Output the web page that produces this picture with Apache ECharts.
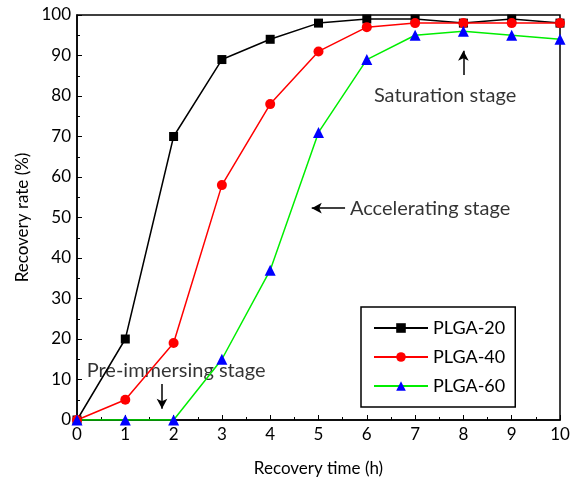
<!DOCTYPE html>
<html><head><meta charset="utf-8">
<script src="https://cdn.jsdelivr.net/npm/echarts@6/dist/echarts.min.js"></script>
<style>html,body{margin:0;padding:0;background:#fff}#c{width:574px;height:483px}</style>
</head><body><div id="c"></div>
<script>
const hours = [0,1,2,3,4,5,6,7,8,9,10];
const plga20 = [0,20,70,89,94,98,99,99,98,99,98];
const plga40 = [0,5,19,58,78,91,97,98,98,98,98];
const plga60 = [0,0,0,15,37,71,89,95,96,95,94];
const seriesNames = ['PLGA-20','PLGA-40','PLGA-60'];
const notes = [
  {text:'Saturation stage', x:7.62, y:80, align:'center'},
  {text:'Accelerating stage', x:5.65, y:52.3, align:'left'},
  {text:'Pre-immersing stage', x:0.2, y:12.2, align:'left'}
];
const arrows = [
  [[8,85.2],[8,91.2]],
  [[5.55,52.3],[4.86,52.3]],
  [[1.76,8.9],[1.76,2.8]]
];
const FONT = 'Lato';
const chart = echarts.init(document.getElementById('c'));
function pairs(ys){return hours.map((h,i)=>[h,ys[i]]);}
chart.setOption({
  animation:false,
  textStyle:{fontFamily:FONT},
  grid:{left:77,right:14,top:15,bottom:63,show:true,borderColor:'#000',borderWidth:1.5},
  xAxis:{type:'value',min:0,max:10,interval:1,
    name:'Recovery time (h)',nameLocation:'middle',nameGap:40,
    nameTextStyle:{fontFamily:FONT,fontSize:17,color:'#000'},
    axisLine:{lineStyle:{color:'#000',width:1.5}},
    axisTick:{inside:true,length:5,lineStyle:{color:'#000'}},
    minorTick:{show:true,splitNumber:2,length:3,lineStyle:{color:'#000'}},
    axisLabel:{fontFamily:FONT,fontSize:17,color:'#000',margin:6},
    splitLine:{show:false}},
  yAxis:{type:'value',min:0,max:100,interval:10,
    name:'Recovery rate (%)',nameLocation:'middle',nameGap:46,
    nameTextStyle:{fontFamily:FONT,fontSize:17,color:'#000'},
    axisLine:{show:true,lineStyle:{color:'#000',width:1.5}},
    axisTick:{show:true,inside:true,length:5,lineStyle:{color:'#000'}},
    minorTick:{show:true,splitNumber:2,length:3,lineStyle:{color:'#000'}},
    axisLabel:{fontFamily:FONT,fontSize:17,color:'#000',margin:6},
    splitLine:{show:false}},
  legend:{orient:'vertical',left:361,top:307,width:152,
    padding:[12,10,12,12],itemGap:11,itemWidth:54,itemHeight:12,
    borderColor:'#000',borderWidth:1.5,
    textStyle:{fontFamily:FONT,fontSize:18,color:'#000'},
    data:seriesNames},
  series:[
    {name:seriesNames[0],type:'line',data:pairs(plga20),symbol:'rect',symbolSize:9,
      lineStyle:{color:'#000',width:1.5},itemStyle:{color:'#000'},color:'#000'},
    {name:seriesNames[1],type:'line',data:pairs(plga40),symbol:'circle',symbolSize:10,
      lineStyle:{color:'#ff0000',width:1.5},itemStyle:{color:'#ff0000'},color:'#ff0000'},
    {name:seriesNames[2],type:'line',data:pairs(plga60),symbol:'triangle',symbolSize:11,
      lineStyle:{color:'#00ee00',width:1.5},itemStyle:{color:'#0000ff'},color:'#00ee00'},
    {name:'notes',type:'scatter',symbolSize:0,silent:true,
      data:notes.map(n=>({value:[n.x,n.y],label:{show:true,position:'inside',formatter:n.text,
        align:n.align,verticalAlign:'middle',fontFamily:FONT,fontSize:20,color:'#000'}})),
      markLine:{silent:true,symbol:['none','arrow'],symbolSize:[8,10],
        lineStyle:{color:'#000',width:1.5,type:'solid'},label:{show:false},
        data:arrows.map(a=>[{coord:a[0]},{coord:a[1]}])}}
  ]
});
</script></body></html>
